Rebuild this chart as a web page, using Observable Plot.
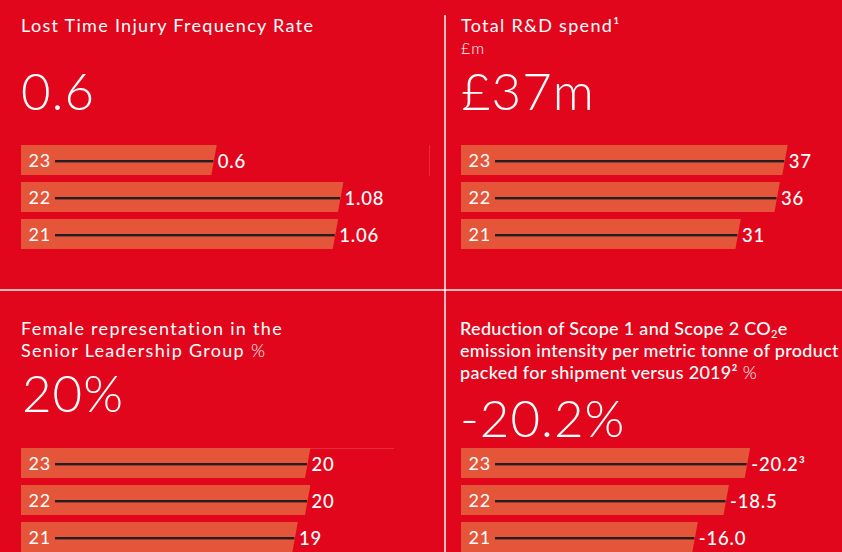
<!DOCTYPE html>
<html><head><meta charset="utf-8">
<script src="https://cdn.jsdelivr.net/npm/d3@7"></script>
<script src="https://cdn.jsdelivr.net/npm/@observablehq/plot@0.6"></script>
<style>
html,body{margin:0;padding:0;overflow:hidden;background:#e2061c}
#chart{position:relative;width:842px;height:552px;background:#e2061c;overflow:hidden;font-family:Lato,"Open Sans",sans-serif;color:#fff}
.title{position:absolute;font-size:18px;line-height:22px;font-weight:400;white-space:nowrap;letter-spacing:1.3px}
.title.bold{font-weight:500;letter-spacing:0.3px}
.unit{position:absolute;font-size:16px;line-height:18px;font-weight:300;white-space:nowrap;letter-spacing:1px}
.big{position:absolute;font-size:51px;line-height:51px;font-weight:300;white-space:nowrap;letter-spacing:1px}
.lt{font-weight:300}
sub{font-size:11px;vertical-align:-3px;line-height:0}
.panel{position:absolute}
.vdiv{position:absolute;left:444px;top:15px;width:1.5px;height:537px;background:rgba(255,255,255,0.7)}
.hdiv{position:absolute;left:0;top:289px;width:842px;height:1.5px;background:rgba(255,255,255,0.7)}
.faintv{position:absolute;left:429px;top:145px;width:1px;height:31px;background:rgba(255,255,255,0.15)}
.fainth{position:absolute;left:310px;top:448px;width:84px;height:1px;background:rgba(255,255,255,0.15)}
</style>
</head><body>
<div id="chart">
  <div class="title" style="left:21px;top:13.5px">Lost Time Injury Frequency Rate</div>
  <div class="big" style="left:21px;top:65px">0.6</div>

  <div class="title" style="left:461px;top:13.5px">Total R&amp;D spend¹</div>
  <div class="unit" style="left:461px;top:39px">£m</div>
  <div class="big" style="left:461px;top:65px">£37m</div>

  <div class="title" style="left:21px;top:317px">Female representation in the<br>Senior Leadership Group <span class="lt">%</span></div>
  <div class="big" style="left:22px;top:366.5px">20%</div>

  <div class="title bold" style="left:460px;top:317px">Reduction of Scope 1 and Scope 2 CO<sub>2</sub>e<br>emission intensity per metric tonne of product<br>packed for shipment versus 2019² <span class="lt">%</span></div>
  <div class="big" style="left:460px;top:391.5px">-20.2%</div>

  <div class="vdiv"></div>
  <div class="hdiv"></div>
  <div class="faintv"></div>
  <div class="fainth"></div>
</div>
<script>
// ---- data ----
const years = ["23", "22", "21"];

const ltifrValues = [0.6, 1.08, 1.06];
const ltifrLabels = ["0.6", "1.08", "1.06"];

const rdValues = [37, 36, 31];
const rdLabels = ["37", "36", "31"];

const femaleValues = [20, 20, 19];
const femaleLabels = ["20", "20", "19"];

const co2Values = [-20.2, -18.5, -16.0];
const co2Labels = ["-20.2³", "-18.5", "-16.0"];

// ---- styling ----
const BAR = "#e4553a";
const LINE = "#231f20";

function panel({values, labels, left, top, width, rangeEnd}) {
  const data = years.map((y, i) => ({year: y, value: values[i], label: labels[i]}));
  const len = d => Math.abs(d.value);
  const svg = Plot.plot({
    width, height: 120,
    marginLeft: 0, marginRight: 0, marginTop: 0, marginBottom: 0,
    style: {background: "transparent", overflow: "visible"},
    x: {domain: [0, d3.max(data, len)], range: [55, rangeEnd], axis: null},
    y: {type: "band", domain: years, range: [5, 110.33], paddingInner: 0.18, paddingOuter: 0, axis: null},
    marks: [
      Plot.barX(data, {y: "year", x1: 0, x2: len, fill: BAR, insetLeft: -34}),
      Plot.barX(data, {y: "year", x1: 0, x2: len, fill: LINE, insetTop: 15, insetBottom: 12.6}),
      Plot.text(data, {y: "year", text: "year", frameAnchor: "left", dx: 28, dy: 1, textAnchor: "start",
        fill: "#fff", fontSize: 18, fontWeight: 400, fontFamily: "Lato"}),
      Plot.text(data, {y: "year", x: len, text: "label", dx: 4, dy: 2, textAnchor: "start",
        fill: "#fff", fontSize: 18.5, fontWeight: 500, fontFamily: "Lato"})
    ]
  });
  // letter spacing for labels
  const texts = svg.querySelectorAll('g[aria-label="text"]');
  if (texts[0]) texts[0].setAttribute("letter-spacing", "0.8");
  if (texts[1]) texts[1].setAttribute("letter-spacing", "0.8");
  // slant the right end of the background bars
  const g = svg.querySelectorAll('g[aria-label="bar"]')[0];
  if (g) {
    g.querySelectorAll("rect").forEach(r => {
      const x = +r.getAttribute("x"), y = +r.getAttribute("y");
      const w = +r.getAttribute("width"), h = +r.getAttribute("height");
      const p = document.createElementNS("http://www.w3.org/2000/svg", "path");
      p.setAttribute("d", `M${x},${y}H${x + w + 3.4}L${x + w - 2},${y + h}H${x}Z`);
      const f = r.getAttribute("fill"); if (f) p.setAttribute("fill", f);
      r.replaceWith(p);
    });
  }
  const div = document.createElement("div");
  div.className = "panel";
  div.style.left = left + "px";
  div.style.top = top + "px";
  div.appendChild(svg);
  document.getElementById("chart").appendChild(div);
}

panel({values: ltifrValues, labels: ltifrLabels, left: 0, top: 140, width: 440, rangeEnd: 340});
panel({values: rdValues, labels: rdLabels, left: 440, top: 140, width: 402, rangeEnd: 344.3});
panel({values: femaleValues, labels: femaleLabels, left: 0, top: 443, width: 440, rangeEnd: 307});
panel({values: co2Values, labels: co2Labels, left: 440, top: 443, width: 402, rangeEnd: 306.7});
</script>
</body></html>
